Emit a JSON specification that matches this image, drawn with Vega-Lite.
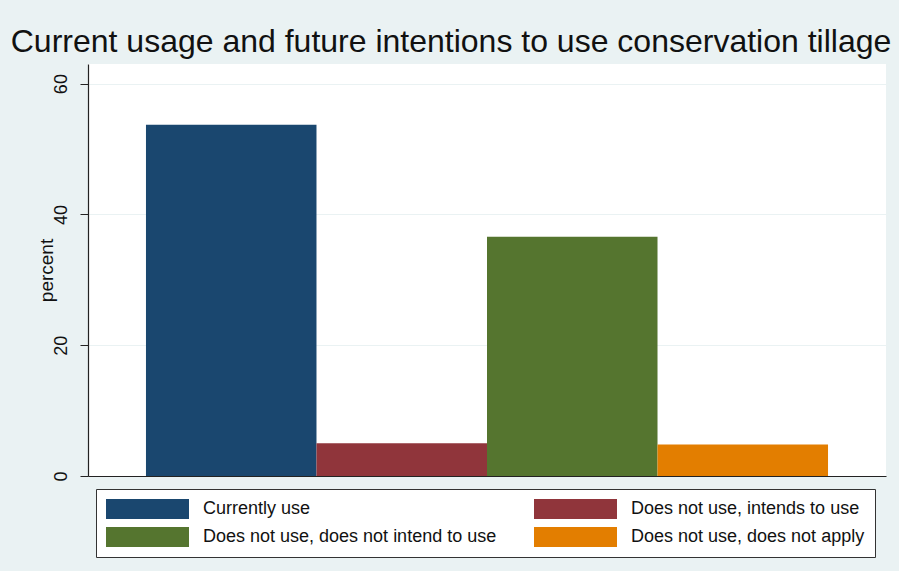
{
  "$schema": "https://vega.github.io/schema/vega-lite/v6.json",
  "autosize": {"type": "none"},
  "padding": {"left": 88, "top": 64, "right": 13, "bottom": 95},
  "width": 798,
  "height": 412,
  "background": "#eaf2f3",
  "title": {
    "text": "Current usage and future intentions to use conservation tillage",
    "font": "Liberation Sans",
    "fontSize": 32,
    "fontWeight": "normal",
    "color": "#111111",
    "anchor": "middle",
    "dx": -36,
    "baseline": "alphabetic",
    "offset": -20
  },
  "data": {
    "values": [
      {"category": "Currently use", "percent": 53.7},
      {"category": "Does not use, intends to use", "percent": 5.0},
      {"category": "Does not use, does not intend to use", "percent": 36.6},
      {"category": "Does not use, does not apply", "percent": 4.8}
    ]
  },
  "mark": {"type": "bar", "stroke": null},
  "encoding": {
    "x": {
      "field": "category",
      "type": "nominal",
      "sort": null,
      "scale": {"paddingInner": 0, "paddingOuter": 0.34},
      "axis": {
        "title": null,
        "labels": false,
        "ticks": false,
        "domainColor": "#222222",
        "domainWidth": 1.2
      }
    },
    "y": {
      "field": "percent",
      "type": "quantitative",
      "scale": {"domain": [0, 63], "nice": false, "zero": true},
      "axis": {
        "title": "percent",
        "titleFont": "Liberation Sans",
        "titleFontSize": 19,
        "titleFontWeight": "normal",
        "titleColor": "#111111",
        "titlePadding": -4,
        "values": [0, 20, 40, 60],
        "labelFont": "Liberation Sans",
        "labelFontSize": 18,
        "labelColor": "#111111",
        "labelAngle": -90,
        "labelAlign": "center",
        "labelBaseline": "alphabetic",
        "labelPadding": 14,
        "tickSize": 8,
        "tickColor": "#222222",
        "domainColor": "#222222",
        "domainWidth": 1.2,
        "grid": true,
        "gridColor": "#eaf2f3",
        "gridWidth": 1.2
      }
    },
    "color": {
      "field": "category",
      "type": "nominal",
      "sort": null,
      "scale": {
        "domain": ["Currently use", "Does not use, intends to use", "Does not use, does not intend to use", "Does not use, does not apply"],
        "range": ["#1a476f", "#90353b", "#55752f", "#e37e00"]
      },
      "legend": {
        "title": null,
        "orient": "none",
        "legendX": 8,
        "legendY": 425,
        "direction": "horizontal",
        "columns": 2,
        "gridAlign": "each",
        "columnPadding": 37,
        "rowPadding": 8,
        "padding": 10,
        "strokeColor": "#333333",
        "fillColor": "#ffffff",
        "symbolType": "M-4.15,-1H4.15V1H-4.15Z",
        "symbolSize": 400,
        "symbolOffset": 31.5,
        "symbolStrokeWidth": 0,
        "symbolOpacity": 1,
        "labelOffset": 45.5,
        "labelFont": "Liberation Sans",
        "labelFontSize": 18,
        "labelColor": "#111111",
        "labelLimit": 400,
        "labelBaseline": "middle"
      }
    }
  },
  "config": {
    "view": {"fill": "#ffffff", "stroke": null}
  }
}
